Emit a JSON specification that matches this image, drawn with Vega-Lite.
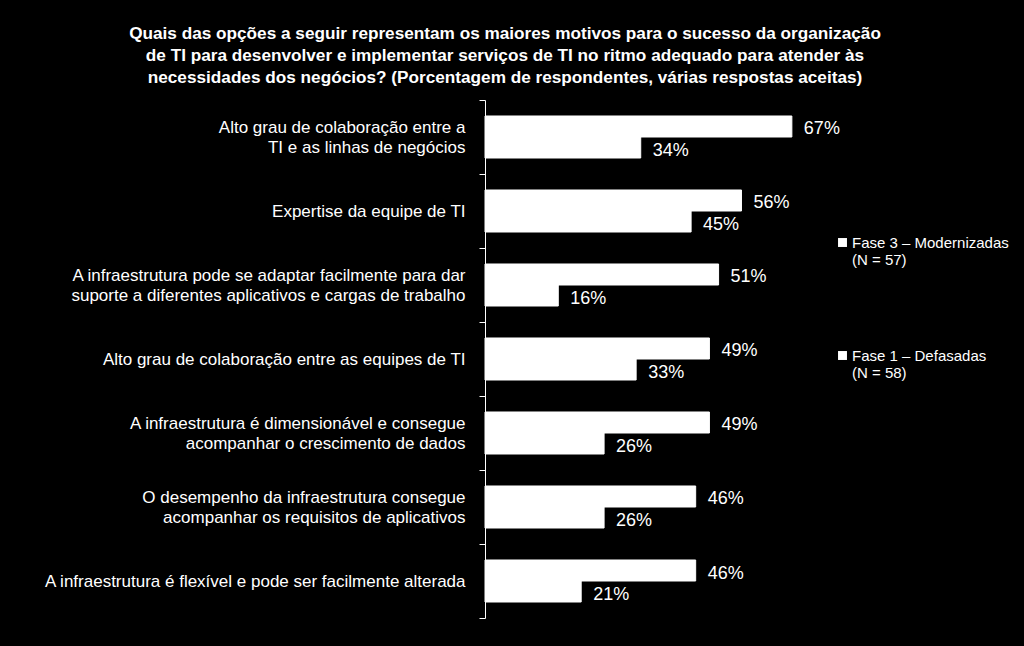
{
  "$schema": "https://vega.github.io/schema/vega-lite/v6.json",
  "autosize": {"type": "none"},
  "padding": {"left": 485, "top": 100, "right": 81, "bottom": 28},
  "width": 458,
  "height": 518,
  "background": "black",
  "title": {
    "text": ["Quais das opções a seguir representam os maiores motivos para o sucesso da organização", "de TI para desenvolver e implementar serviços de TI no ritmo adequado para atender às", "necessidades dos negócios? (Porcentagem de respondentes, várias respostas aceitas)"],
    "font": "Liberation Sans",
    "fontSize": 17.2,
    "fontWeight": "bold",
    "color": "white",
    "lineHeight": 22,
    "anchor": "middle",
    "frame": "group",
    "dx": -209,
    "offset": 5
  },
  "data": {
    "values": [
      {"motivo": "Alto grau de colaboração entre a\nTI e as linhas de negócios", "grupo": "Fase 3 – Modernizadas (N = 57)", "valor": 67},
      {"motivo": "Alto grau de colaboração entre a\nTI e as linhas de negócios", "grupo": "Fase 1 – Defasadas (N = 58)", "valor": 34},
      {"motivo": "Expertise da equipe de TI", "grupo": "Fase 3 – Modernizadas (N = 57)", "valor": 56},
      {"motivo": "Expertise da equipe de TI", "grupo": "Fase 1 – Defasadas (N = 58)", "valor": 45},
      {"motivo": "A infraestrutura pode se adaptar facilmente para dar\nsuporte a diferentes aplicativos e cargas de trabalho", "grupo": "Fase 3 – Modernizadas (N = 57)", "valor": 51},
      {"motivo": "A infraestrutura pode se adaptar facilmente para dar\nsuporte a diferentes aplicativos e cargas de trabalho", "grupo": "Fase 1 – Defasadas (N = 58)", "valor": 16},
      {"motivo": "Alto grau de colaboração entre as equipes de TI", "grupo": "Fase 3 – Modernizadas (N = 57)", "valor": 49},
      {"motivo": "Alto grau de colaboração entre as equipes de TI", "grupo": "Fase 1 – Defasadas (N = 58)", "valor": 33},
      {"motivo": "A infraestrutura é dimensionável e consegue\nacompanhar o crescimento de dados", "grupo": "Fase 3 – Modernizadas (N = 57)", "valor": 49},
      {"motivo": "A infraestrutura é dimensionável e consegue\nacompanhar o crescimento de dados", "grupo": "Fase 1 – Defasadas (N = 58)", "valor": 26},
      {"motivo": "O desempenho da infraestrutura consegue\nacompanhar os requisitos de aplicativos", "grupo": "Fase 3 – Modernizadas (N = 57)", "valor": 46},
      {"motivo": "O desempenho da infraestrutura consegue\nacompanhar os requisitos de aplicativos", "grupo": "Fase 1 – Defasadas (N = 58)", "valor": 26},
      {"motivo": "A infraestrutura é flexível e pode ser facilmente alterada", "grupo": "Fase 3 – Modernizadas (N = 57)", "valor": 46},
      {"motivo": "A infraestrutura é flexível e pode ser facilmente alterada", "grupo": "Fase 1 – Defasadas (N = 58)", "valor": 21}
    ]
  },
  "transform": [{"calculate": "datum.valor + '%'", "as": "rotulo"}],
  "encoding": {
    "y": {
      "field": "motivo",
      "type": "nominal",
      "sort": null,
      "title": null,
      "scale": {"paddingInner": 0, "paddingOuter": 0},
      "axis": {
        "labelExpr": "split(datum.label, '\\n')",
        "labelFont": "Liberation Sans",
        "labelFontSize": 17,
        "labelColor": "white",
        "labelLineHeight": 20,
        "labelLimit": 500,
        "labelPadding": 14,
        "labelBaseline": {"condition": {"test": "length(split(datum.label, '\\n')) > 1", "value": "line-bottom"}, "value": "middle"},
        "tickBand": "extent",
        "tickSize": 6,
        "tickColor": "white",
        "domainColor": "white",
        "domainWidth": 1,
        "tickWidth": 1
      }
    },
    "yOffset": {
      "field": "grupo",
      "type": "nominal",
      "sort": ["Fase 3 – Modernizadas (N = 57)", "Fase 1 – Defasadas (N = 58)"],
      "scale": {"paddingInner": 0, "paddingOuter": 0.7619}
    },
    "x": {
      "field": "valor",
      "type": "quantitative",
      "scale": {"domain": [0, 100], "nice": false},
      "axis": null
    }
  },
  "layer": [
    {
      "mark": {"type": "bar", "fill": "white", "stroke": "white", "strokeWidth": 1},
      "encoding": {
        "color": {
          "field": "grupo",
          "type": "nominal",
          "sort": ["Fase 3 – Modernizadas (N = 57)", "Fase 1 – Defasadas (N = 58)"],
          "scale": {"range": ["white", "white"]},
          "legend": {
            "title": null,
            "orient": "none",
            "legendX": 350,
            "legendY": 135,
            "padding": 0,
            "symbolType": "square",
            "symbolSize": 80,
            "symbolFillColor": "white",
            "symbolStrokeWidth": 0,
            "labelExpr": "[split(datum.label, ' (')[0], '(' + split(datum.label, ' (')[1]]",
            "labelFont": "Liberation Sans",
            "labelFontSize": 15,
            "labelLineHeight": 17,
            "labelColor": "white",
            "labelLimit": 300,
            "labelOffset": 2,
            "rowPadding": 80
          }
        }
      }
    },
    {
      "mark": {"type": "text", "align": "left", "baseline": "middle", "dx": 12, "dy": 3, "font": "Liberation Sans", "fontSize": 18, "color": "white"},
      "encoding": {"text": {"field": "rotulo"}}
    }
  ],
  "config": {"view": {"stroke": null}}
}
